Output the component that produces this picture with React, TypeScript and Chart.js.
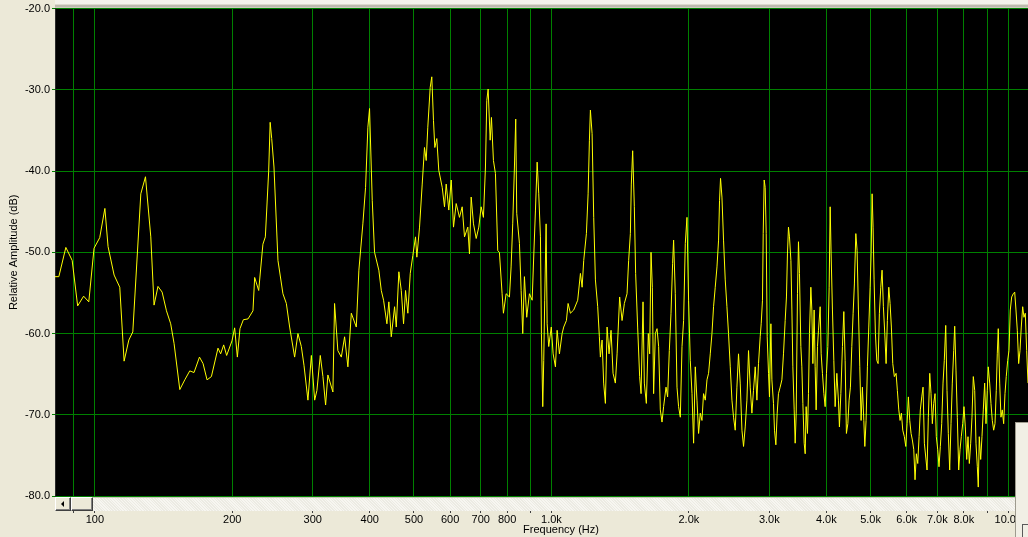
import React, { useEffect, useRef } from "react";
import { Chart, registerables } from "chart.js";

Chart.register(...registerables);

// ---- data ----
const FREQ_HZ: number[] = [
  81.8, 83.4, 86.4, 89.2, 91.7, 94.5, 97.0, 99.6, 102.5, 105.2, 106.9, 110.2, 113.4, 115.9, 118.7, 121.1,
  126.1, 129.1, 132.6, 134.8, 137.5, 140.4, 143.5, 146.6, 149.1, 153.5, 157.4, 161.4, 164.9, 169.5, 172.6,
  176.1, 180.0, 186.1, 188.6, 191.5, 194.4, 199.7, 202.4, 205.2, 207.9, 211.5, 216.5, 222.0, 223.9, 228.5,
  233.4, 236.3, 240.3, 242.1, 244.0, 246.8, 251.8, 258.2, 262.7, 267.1, 273.9, 278.5, 283.3, 287.1, 292.9,
  298.0, 303.0, 306.5, 311.7, 315.9, 320.2, 323.9, 332.2, 335.0, 340.6, 346.6, 352.4, 358.3, 364.5, 373.8,
  378.7, 386.4, 391.7, 396.3, 399.6, 405.1, 409.8, 418.8, 424.0, 428.9, 436.2, 440.5, 445.9, 453.4, 457.3,
  463.3, 469.0, 474.4, 479.2, 484.8, 490.7, 497.1, 503.9, 507.3, 514.2, 521.2, 527.2, 531.8, 536.1, 542.6,
  547.0, 551.7, 555.4, 561.0, 566.6, 576.5, 583.2, 588.2, 596.0, 603.3, 610.3, 618.6, 629.0, 637.6, 645.1,
  655.9, 661.5, 667.2, 675.0, 684.3, 693.3, 701.6, 709.7, 717.0, 721.8, 726.8, 734.2, 739.0, 746.4, 754.0,
  762.8, 769.3, 779.8, 785.0, 795.7, 809.1, 816.0, 822.7, 829.8, 835.2, 839.5, 851.0, 858.3, 865.3, 872.7,
  882.9, 895.0, 907.4, 915.0, 922.6, 930.5, 938.0, 946.1, 950.8, 957.2, 962.0, 966.7, 973.6, 978.6, 986.5,
  999.3, 1008.6, 1020.4, 1029.2, 1041.1, 1055.4, 1063.9, 1078.5, 1087.7, 1100.5, 1119.0, 1141.7, 1157.5,
  1167.4, 1176.9, 1192.9, 1203.2, 1211.1, 1217.2, 1227.7, 1237.7, 1248.3, 1262.8, 1273.5, 1280.0, 1291.0,
  1301.4, 1312.8, 1324.0, 1337.2, 1350.7, 1364.5, 1380.4, 1392.5, 1410.6, 1427.9, 1444.5, 1464.2, 1476.1,
  1489.0, 1496.2, 1506.3, 1519.1, 1529.0, 1544.6, 1560.3, 1571.4, 1587.1, 1597.7, 1614.0, 1630.1, 1641.0,
  1652.4, 1663.4, 1674.2, 1688.9, 1703.3, 1717.1, 1731.8, 1746.6, 1760.7, 1782.3, 1796.7, 1812.1, 1827.6,
  1842.4, 1851.7, 1867.6, 1883.6, 1898.8, 1915.5, 1931.9, 1947.5, 1964.2, 1981.0, 1997.0, 2014.1, 2031.8,
  2048.2, 2065.8, 2083.4, 2100.3, 2118.3, 2136.4, 2153.7, 2172.6, 2191.2, 2208.9, 2227.8, 2246.9, 2265.0,
  2284.4, 2304.5, 2323.1, 2334.4, 2346.2, 2363.0, 2382.1, 2402.5, 2423.0, 2442.6, 2464.1, 2485.2, 2505.3,
  2526.7, 2548.3, 2569.0, 2591.0, 2613.7, 2634.9, 2657.4, 2680.1, 2701.8, 2724.9, 2748.2, 2770.4, 2794.7,
  2818.6, 2841.4, 2865.7, 2880.2, 2898.9, 2909.6, 2923.8, 2938.6, 2953.6, 2968.6, 2988.5, 3003.0, 3024.5,
  3039.8, 3064.4, 3080.0, 3101.3, 3122.1, 3142.3, 3169.2, 3197.0, 3222.9, 3250.5, 3271.6, 3288.2, 3304.9,
  3321.7, 3345.5, 3362.5, 3378.8, 3401.4, 3418.7, 3436.1, 3458.3, 3475.9, 3493.5, 3517.8, 3535.6, 3553.6,
  3577.4, 3595.6, 3613.0, 3637.2, 3655.7, 3674.3, 3699.7, 3718.5, 3737.4, 3761.6, 3780.7, 3799.9, 3825.3,
  3844.7, 3877.6, 3897.3, 3922.5, 3950.6, 3976.2, 4002.8, 4030.5, 4057.5, 4078.1, 4097.9, 4125.3, 4154.0,
  4181.8, 4217.6, 4251.7, 4273.3, 4303.9, 4338.7, 4368.8, 4398.1, 4426.5, 4458.2, 4487.0, 4517.1, 4548.4,
  4578.9, 4608.5, 4641.5, 4671.5, 4702.8, 4735.4, 4767.1, 4798.0, 4832.4, 4856.9, 4888.3, 4921.1, 4955.2,
  4988.4, 5013.7, 5039.2, 5063.6, 5089.3, 5123.4, 5158.9, 5193.5, 5227.1, 5264.5, 5298.6, 5334.1, 5371.1,
  5407.1, 5442.1, 5481.0, 5516.5, 5553.4, 5591.9, 5637.2, 5686.7, 5723.5, 5764.5, 5801.8, 5840.7, 5881.2,
  5928.8, 5971.3, 6009.9, 6050.1, 6092.1, 6132.9, 6172.6, 6216.8, 6257.0, 6298.9, 6342.6, 6385.1, 6426.4,
  6472.4, 6514.3, 6558.0, 6603.4, 6647.6, 6690.6, 6738.5, 6782.1, 6827.5, 6874.8, 6920.9, 6965.6, 7015.5,
  7061.0, 7108.3, 7157.5, 7205.5, 7252.1, 7304.0, 7351.3, 7400.5, 7451.8, 7501.7, 7550.2, 7604.3, 7642.9,
  7692.3, 7743.8, 7797.5, 7849.7, 7900.5, 7957.1, 8008.6, 8062.2, 8120.0, 8172.5, 8227.3, 8284.3, 8337.9,
  8393.7, 8453.8, 8508.5, 8565.5, 8607.0, 8650.7, 8712.7, 8769.0, 8827.8, 8889.0, 8948.6, 9006.4, 9052.2,
  9117.0, 9176.0, 9237.5, 9301.5, 9363.8, 9424.4, 9472.2, 9520.3, 9588.5, 9650.5, 9715.1, 9782.5, 9848.0,
  9911.7, 9983.9, 10048, 10116, 10186, 10268, 10342, 10409, 10479, 10551, 10622, 10691, 10767, 10838, 10910,
  10986, 11060,
];

const AMP_DB: number[] = [
  -53.0, -53.0, -49.4, -51.0, -56.6, -55.4, -56.1, -49.5, -48.2, -44.6, -49.3, -52.8, -54.3, -63.4, -60.8, -59.8,
  -42.8, -40.7, -48.1, -56.5, -54.2, -54.9, -57.2, -58.8, -61.2, -66.9, -65.7, -64.6, -64.8, -62.9, -63.7,
  -65.7, -65.3, -61.8, -62.5, -61.4, -62.7, -60.9, -59.3, -62.9, -59.4, -58.3, -58.2, -57.2, -53.1, -54.7,
  -49.0, -48.1, -40.0, -34.0, -36.0, -39.5, -51.0, -55.1, -56.3, -59.2, -62.9, -60.0, -61.6, -63.9, -68.2,
  -62.7, -68.2, -67.0, -62.7, -65.3, -68.8, -65.1, -67.2, -56.3, -62.1, -62.9, -60.4, -64.1, -57.5, -59.2,
  -52.2, -46.5, -42.0, -34.6, -32.3, -43.6, -50.0, -52.2, -54.7, -55.9, -58.8, -56.1, -60.4, -56.7, -59.2,
  -52.4, -54.7, -58.8, -54.7, -57.5, -52.6, -50.4, -48.1, -50.6, -46.9, -41.6, -37.1, -38.7, -34.6, -29.7,
  -28.4, -33.8, -37.1, -36.0, -39.9, -42.0, -44.4, -41.6, -44.8, -41.1, -46.9, -44.0, -45.7, -44.4, -48.1,
  -46.9, -50.2, -43.2, -46.5, -48.3, -46.9, -44.4, -45.7, -39.5, -31.3, -29.9, -36.2, -33.4, -38.7, -40.3,
  -49.8, -50.0, -55.1, -57.5, -55.1, -55.5, -51.8, -46.5, -39.5, -33.6, -45.2, -48.9, -54.7, -60.0, -53.0,
  -58.0, -55.1, -55.9, -50.2, -44.8, -38.9, -42.8, -48.1, -60.0, -69.0, -63.3, -55.9, -46.5, -58.8, -61.6,
  -59.2, -62.5, -64.1, -59.6, -62.5, -60.0, -59.2, -58.4, -56.3, -57.5, -57.1, -55.9, -52.6,
  -54.3, -51.0, -47.7, -42.8, -36.2, -32.5, -35.4, -45.7, -53.4, -56.7, -60.4, -62.9, -60.8,
  -66.1, -68.6, -59.2, -62.5, -59.6, -64.9, -66.1, -62.5, -55.5, -58.4, -56.3, -55.1, -51.0,
  -47.7, -41.6, -37.5, -44.4, -52.6, -59.2, -65.3, -67.4, -56.1, -66.1, -68.6, -60.0, -62.5,
  -50.0, -54.3, -67.4, -60.0, -59.4, -61.6, -69.4, -70.9, -69.0, -66.6, -67.8, -62.1, -57.5,
  -51.4, -48.5, -55.1, -66.6, -69.0, -70.3, -61.6, -58.4, -48.9, -45.7, -55.9, -63.3, -67.4,
  -73.5, -64.1, -68.2, -72.3, -69.8, -70.7, -67.4, -68.2, -65.7, -64.9, -62.5, -60.0, -56.7,
  -54.3, -51.8, -48.5, -43.6, -40.9, -43.2, -48.5, -53.4, -56.7, -60.0, -64.1, -68.2, -70.3,
  -71.9, -66.6, -62.5, -66.1, -71.9, -73.9, -71.5, -68.2, -62.1, -66.6, -69.8, -67.0, -64.1,
  -68.2, -63.7, -60.4, -58.8, -55.9, -47.7, -41.1, -42.0, -47.7, -60.4, -64.9, -67.8, -58.8,
  -65.7, -68.6, -71.9, -73.7, -69.8, -67.4, -66.6, -65.7, -62.5, -58.4, -55.5, -50.2, -46.9,
  -48.1, -51.0, -57.1, -64.1, -69.4, -73.5, -69.8, -55.1, -48.7, -52.6, -61.6, -64.1, -68.6,
  -73.5, -74.8, -69.0, -72.3, -67.4, -60.0, -54.3, -57.1, -63.7, -57.1, -64.1, -69.4, -61.6,
  -59.6, -56.7, -62.5, -64.9, -67.4, -69.0, -64.9, -61.6, -54.3, -44.4, -50.2, -57.1, -63.3,
  -69.0, -64.9, -68.2, -71.5, -67.4, -61.6, -57.3, -63.3, -72.3, -71.1, -68.2, -66.6, -61.6,
  -57.5, -53.9, -47.7, -49.8, -57.1, -64.1, -70.7, -66.6, -70.7, -73.9, -70.7, -64.1, -59.2,
  -54.3, -50.2, -42.8, -46.9, -53.4, -60.0, -63.3, -63.7, -57.5, -54.3, -52.2, -56.7, -60.0,
  -63.7, -58.4, -54.3, -56.3, -59.2, -63.7, -65.3, -64.9, -67.0, -69.4, -70.7, -69.8, -71.9,
  -72.7, -73.9, -71.1, -67.8, -70.7, -72.3, -73.1, -74.3, -78.0, -74.8, -76.0, -72.7, -69.4,
  -67.8, -66.6, -73.5, -75.2, -76.8, -70.3, -64.9, -67.4, -71.1, -68.6, -67.4, -72.7, -74.3,
  -76.4, -73.9, -71.1, -66.1, -63.3, -59.0, -67.0, -72.3, -76.8, -71.1, -66.1, -62.1, -59.1,
  -64.5, -70.3, -76.8, -74.3, -72.7, -71.1, -69.0, -71.5, -75.5, -72.7, -76.0, -73.5, -70.3,
  -65.3, -67.0, -73.5, -76.4, -78.9, -72.7, -75.5, -72.7, -69.4, -66.1, -71.1, -67.0, -64.1,
  -66.1, -68.6, -70.7, -71.9, -71.1, -67.0, -62.5, -59.4, -66.1, -70.3, -69.4, -71.1, -67.4,
  -65.3, -63.3, -62.1, -57.1, -55.5, -55.1, -54.9, -57.1, -59.6, -63.7, -62.1, -59.2, -56.7, -58.0, -57.5,
  -62.1, -66.1,
];

const X_TICKS_HZ: number[] = [90, 100, 200, 300, 400, 500, 600, 700, 800, 900, 1000, 2000, 3000, 4000, 5000, 6000, 7000, 8000, 9000, 10000];
const X_TICK_LABELS: string[] = ["", "100", "200", "300", "400", "500", "600", "700", "800", "", "1.0k", "2.0k", "3.0k", "4.0k", "5.0k", "6.0k", "7.0k", "8.0k", "", "10.0k"];
const Y_TICKS_DB: number[] = [-80, -70, -60, -50, -40, -30, -20];
const X_RANGE_HZ: number[] = [81.8, 11060];
const Y_RANGE_DB: number[] = [-80, -20];
const X_TITLE = "Frequency (Hz)";
const Y_TITLE = "Relative Amplitude (dB)";

const FONT = '"Liberation Sans", Arial, sans-serif';
const BG = "#ECE9D8";
const GRID = "#008000";

export default function App() {
  const canvasRef = useRef<HTMLCanvasElement | null>(null);

  useEffect(() => {
    const canvas = canvasRef.current;
    if (!canvas) return;

    const framePlugin = {
      id: "frame",
      beforeDraw(chart: any) {
        const { ctx, chartArea, width } = chart;
        ctx.save();
        ctx.fillStyle = BG;
        ctx.fillRect(0, 0, width, chart.height);
        // thin strip above the plot
        ctx.fillStyle = "#F4F2EA";
        ctx.fillRect(chartArea.left, 0, width - chartArea.left, chartArea.top - 4);
        ctx.fillStyle = "#BDBAAD";
        ctx.fillRect(chartArea.left, chartArea.top - 4, width - chartArea.left, 3);
        ctx.fillStyle = "#000000";
        ctx.fillRect(chartArea.left, chartArea.top, chartArea.right - chartArea.left, chartArea.bottom - chartArea.top);
        ctx.restore();
      },
      afterDraw(chart: any) {
        const { ctx, chartArea } = chart;
        ctx.save();
        ctx.font = `11px ${FONT}`;
        ctx.fillStyle = "#000";
        ctx.textAlign = "center";
        ctx.textBaseline = "middle";
        ctx.fillText(X_TITLE, chartArea.left + 506, chart.height - 7);
        ctx.translate(14, (chartArea.top + chartArea.bottom) / 2);
        ctx.rotate(-Math.PI / 2);
        ctx.fillText(Y_TITLE, 0, 0);
        ctx.restore();
      },
    };

    const chart = new Chart(canvas, {
      type: "line",
      data: {
        datasets: [
          {
            data: FREQ_HZ.map((f, i) => ({ x: f, y: AMP_DB[i] })),
            borderColor: "#FFFF00",
            borderWidth: 1,
            pointRadius: 0,
            tension: 0,
            fill: false,
          },
        ],
      },
      options: {
        animation: false,
        responsive: false,
        maintainAspectRatio: false,
        events: [],
        layout: { padding: { top: 8, left: 0, right: 0, bottom: 0 } },
        plugins: { legend: { display: false }, tooltip: { enabled: false } },
        scales: {
          x: {
            type: "logarithmic",
            min: X_RANGE_HZ[0],
            max: X_RANGE_HZ[1],
            afterBuildTicks: (s: any) => {
              s.ticks = X_TICKS_HZ.map((v) => ({ value: v }));
            },
            afterFit: (s: any) => {
              s.height = 41;
            },
            ticks: {
              autoSkip: false,
              maxRotation: 0,
              minRotation: 0,
              padding: 0,
              color: "#000",
              font: { family: FONT, size: 11 },
              callback: (v: any) => {
                const i = X_TICKS_HZ.indexOf(Number(v));
                return i >= 0 ? X_TICK_LABELS[i] : "";
              },
            },
            grid: { color: GRID, lineWidth: 1, tickLength: 17, tickColor: "#404040", drawTicks: true },
            border: { display: false },
          },
          y: {
            type: "linear",
            min: Y_RANGE_DB[0],
            max: Y_RANGE_DB[1],
            afterBuildTicks: (s: any) => {
              s.ticks = Y_TICKS_DB.map((v) => ({ value: v }));
            },
            afterFit: (s: any) => {
              s.width = 55;
            },
            ticks: {
              padding: 2,
              color: "#000",
              font: { family: FONT, size: 11 },
              callback: (v: any) => Number(v).toFixed(1),
            },
            grid: { color: GRID, lineWidth: 1, tickLength: 3, tickColor: GRID },
            border: { display: true, color: "#2a2a2a" },
          },
        },
      },
      plugins: [framePlugin],
    } as any);

    return () => chart.destroy();
  }, []);

  const btn: React.CSSProperties = {
    position: "absolute",
    boxSizing: "border-box",
    background: BG,
    borderTop: "1px solid #ffffff",
    borderLeft: "1px solid #ffffff",
    borderRight: "1px solid #404040",
    borderBottom: "1px solid #404040",
    boxShadow: "inset -1px -1px 0 #808080",
  };

  return (
    <div style={{ position: "fixed", left: 0, top: 0, width: 1028, height: 537, background: BG, overflow: "hidden" }}>
      <canvas ref={canvasRef} width={1028} height={537} style={{ position: "absolute", left: 0, top: 0, width: 1028, height: 537 }} />
      {/* scrollbar under the plot */}
      <div
        style={{
          position: "absolute",
          left: 55,
          top: 497,
          width: 960,
          height: 14,
          background: "repeating-linear-gradient(45deg, #F7F6F1 0px, #F7F6F1 1px, #ECEBE3 1px, #ECEBE3 2px)",
          borderTop: "1px solid #C9C6B8",
          boxSizing: "border-box",
        }}
      />
      <div style={{ ...btn, left: 55, top: 497, width: 16, height: 14 }}>
        <div
          style={{
            position: "absolute",
            left: 5,
            top: 3,
            width: 0,
            height: 0,
            borderTop: "3px solid transparent",
            borderBottom: "3px solid transparent",
            borderRight: "3px solid #000",
          }}
        />
      </div>
      <div style={{ ...btn, left: 71, top: 497, width: 22, height: 14 }} />
      {/* panel at bottom right */}
      <div
        style={{
          position: "absolute",
          left: 1015,
          top: 422,
          width: 13,
          height: 115,
          background: "#F1EFE5",
          borderLeft: "1px solid #9E9B8E",
          borderTop: "1px solid #9E9B8E",
          boxSizing: "border-box",
        }}
      />
      <div
        style={{
          position: "absolute",
          left: 1022,
          top: 524,
          width: 10,
          height: 14,
          border: "1px solid #5A5A5A",
          boxSizing: "border-box",
        }}
      />
    </div>
  );
}
